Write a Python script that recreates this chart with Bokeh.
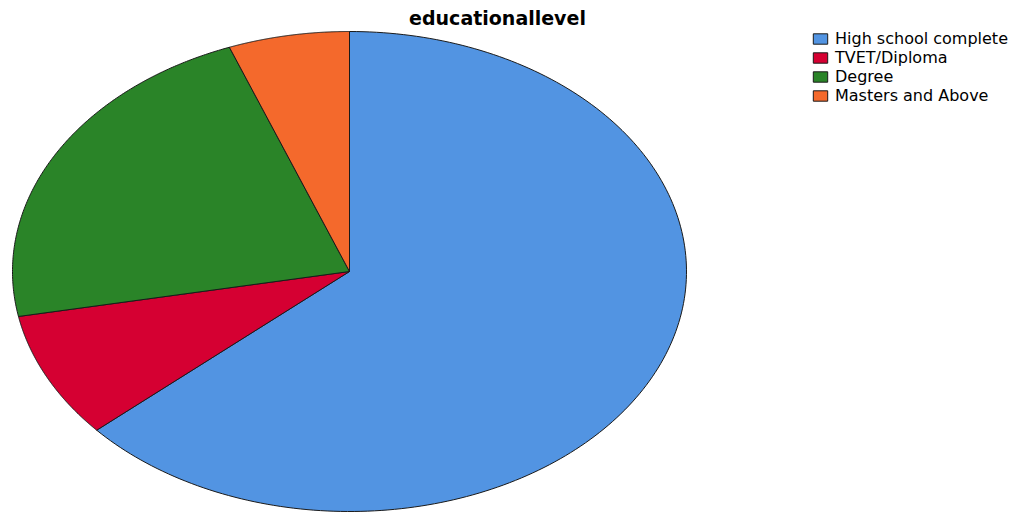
import numpy as np
from bokeh.plotting import figure
from bokeh.models import Range1d, Legend, LegendItem, Label
from bokeh.embed import file_html
from bokeh.resources import INLINE

categories = ["High school complete", "TVET/Diploma", "Degree", "Masters and Above"]
percents = [63.5, 8.5, 22.2, 5.8]
colors = ["#5294E2", "#D50032", "#2A8428", "#F4692C"]

W, H = 1021, 512
cx, cy, rx, ry = 349, 271, 337, 240  # pixel geometry of the ellipse

p = figure(width=W, height=H, output_backend="svg", toolbar_location=None,
           x_range=Range1d(-cx / rx, (W - cx) / rx),
           y_range=Range1d(-(H - cy) / ry, cy / ry),
           min_border=0, outline_line_color=None)
p.axis.visible = False
p.grid.visible = False

total = sum(percents)
cum = np.cumsum([0] + percents) / total
items = []
for i, cat in enumerate(categories):
    t = np.linspace(cum[i], cum[i + 1], 200) * 2 * np.pi
    xs = np.concatenate([[0], np.sin(t), [0]])
    ys = np.concatenate([[0], np.cos(t), [0]])
    r = p.patch(xs, ys, fill_color=colors[i], line_color="#1a1a1a", line_width=1)
    items.append(LegendItem(label=cat, renderers=[r]))

legend = Legend(items=items, location=(811, 407), glyph_width=18, glyph_height=13,
                label_height=13, spacing=-3, padding=0, margin=0, label_standoff=6,
                label_text_font="DejaVu Sans", label_text_font_size="16px",
                label_text_color="black",
                border_line_alpha=0, background_fill_alpha=0)
p.add_layout(legend, "center")

title = Label(x=497, y=H - 17, x_units="screen", y_units="screen", text="educationallevel",
              text_font="DejaVu Sans", text_font_style="bold", text_font_size="19px",
              text_color="black", text_align="center", text_baseline="middle")
p.add_layout(title)

open("out.html", "w").write(file_html(p, INLINE))
